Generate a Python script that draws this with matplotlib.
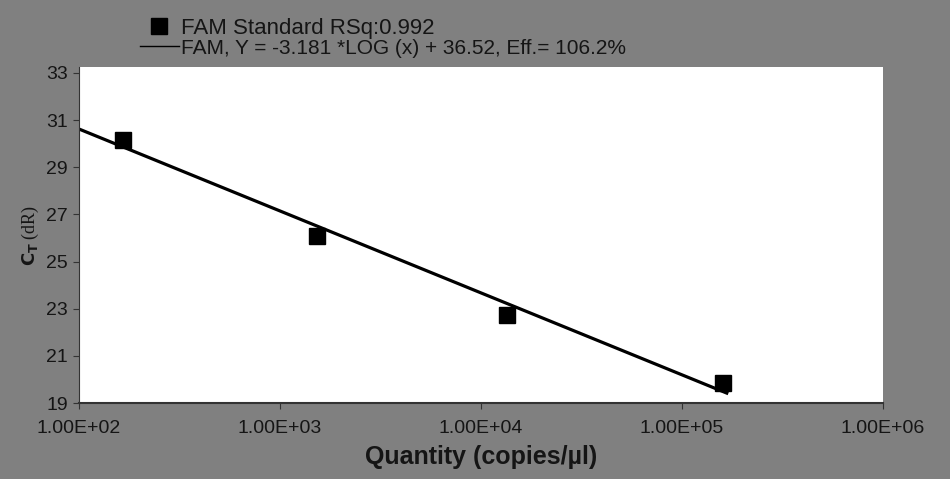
import matplotlib
matplotlib.use("Agg")
import matplotlib.pyplot as plt
import matplotlib.ticker as mticker

# data
quantity = [165, 1525, 13500, 160000]
ct = [30.15, 26.08, 22.73, 19.85]
fit_x = [100, 167000]
fit_y = [30.62, 19.42]
yticks = [19, 21, 23, 25, 27, 29, 31, 33]
xticks = [1e2, 1e3, 1e4, 1e5, 1e6]
xticklabels = ["1.00E+02", "1.00E+03", "1.00E+04", "1.00E+05", "1.00E+06"]

plt.rcParams["mathtext.fontset"] = "dejavusans"
txt = "#151515"
bg = "#808080"

fig = plt.figure(figsize=(9.5, 4.79), dpi=100, facecolor=bg)
ax = fig.add_axes([79/950, 1-403/479, (883-79)/950, (403-67)/479])
ax.set_facecolor("white")

pts, = ax.plot(quantity, ct, "s", color="black", markersize=11, linestyle="none",
               label="FAM Standard RSq:0.992")
fit, = ax.plot(fit_x, fit_y, "-", color="black", linewidth=2.3,
               label="FAM, Y = -3.181 *LOG (x) + 36.52, Eff.= 106.2%")

ax.set_xscale("log")
ax.set_xlim(1e2, 1e6)
ax.set_ylim(19, 33.25)
ax.set_yticks(yticks)
ax.set_yticklabels([str(v) for v in yticks], fontfamily="Liberation Sans", fontsize=14,
                   color=txt)
ax.xaxis.set_major_locator(mticker.FixedLocator(xticks))
ax.xaxis.set_minor_locator(mticker.NullLocator())
ax.set_xticklabels(xticklabels, fontfamily="Liberation Sans", fontsize=14, color=txt)

for s in ["top", "right"]:
    ax.spines[s].set_visible(False)
ax.spines["left"].set_color("#333333")
ax.spines["bottom"].set_color("#333333")
ax.spines["bottom"].set_linewidth(1.5)
ax.tick_params(axis="y", direction="out", length=4, color="#333333", pad=4)
ax.tick_params(axis="x", direction="out", length=4, color="#333333", pad=8)

ax.set_xlabel("Quantity (copies/µl)", fontfamily="Liberation Sans", fontweight="bold",
              fontsize=18, color=txt, labelpad=6)
ax.set_ylabel(r"$\mathbf{C_T}$ (dR)", fontfamily="Liberation Serif", fontsize=13,
              color=txt, labelpad=4)

leg = fig.legend(handles=[pts, fit], loc="upper left", bbox_to_anchor=(140/950, 1-18/479),
                 frameon=False, prop={"family": "Liberation Sans", "size": 16},
                 handlelength=1.75, handletextpad=0.1, labelspacing=-0.02, borderpad=0,
                 borderaxespad=0)
leg.get_texts()[1].set_fontsize(15)
for t in leg.get_texts():
    t.set_color(txt)
for h in leg.legend_handles:
    if h.get_linewidth() > 2:
        h.set_linewidth(1.0)

fig.savefig("out.png", dpi=100, facecolor=bg)
